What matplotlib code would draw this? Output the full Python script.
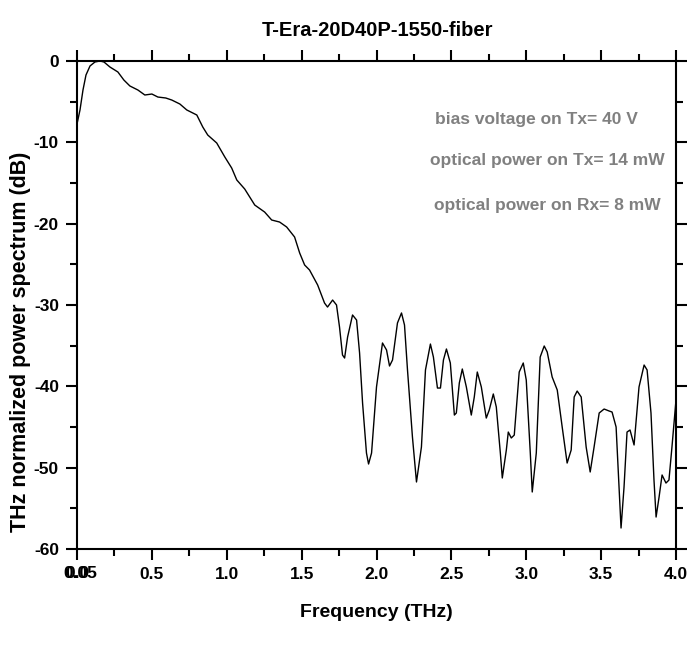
import matplotlib
matplotlib.use("Agg")
import matplotlib.pyplot as plt
from matplotlib.ticker import MultipleLocator
import matplotlib.transforms as mtransforms

plt.rcParams['font.family'] = ['Liberation Sans', 'DejaVu Sans']
plt.rcParams['font.weight'] = 'bold'
plt.rcParams['axes.unicode_minus'] = False

TITLE = "T-Era-20D40P-1550-fiber"
NOTES = ["bias voltage on Tx= 40 V",
         "optical power on Tx= 14 mW",
         "optical power on Rx= 8 mW"]

# frequency (THz) and normalized power (dB)
freq = [0.000, 0.020, 0.040, 0.060, 0.087, 0.120, 0.153, 0.180, 0.220, 0.273,
        0.313, 0.353, 0.407, 0.453, 0.500, 0.540, 0.593, 0.633, 0.687, 0.733,
        0.800, 0.840, 0.873, 0.933, 0.987, 1.033, 1.067, 1.120, 1.187, 1.253,
        1.300, 1.353, 1.400, 1.453, 1.487, 1.520, 1.553, 1.607, 1.653, 1.673,
        1.707, 1.733, 1.753, 1.773, 1.787, 1.807, 1.840, 1.867, 1.887, 1.907,
        1.933, 1.947, 1.967, 2.000, 2.040, 2.067, 2.087, 2.107, 2.140, 2.167,
        2.187, 2.207, 2.240, 2.267, 2.300, 2.327, 2.360, 2.380, 2.407, 2.427,
        2.447, 2.467, 2.493, 2.520, 2.533, 2.553, 2.573, 2.600, 2.633, 2.653,
        2.673, 2.700, 2.733, 2.753, 2.780, 2.800, 2.827, 2.840, 2.867, 2.880,
        2.900, 2.920, 2.953, 2.980, 3.000, 3.027, 3.040, 3.067, 3.093, 3.120,
        3.140, 3.173, 3.207, 3.240, 3.273, 3.300, 3.320, 3.340, 3.367, 3.400,
        3.427, 3.453, 3.487, 3.520, 3.553, 3.573, 3.600, 3.620, 3.633, 3.653,
        3.673, 3.693, 3.720, 3.753, 3.787, 3.807, 3.833, 3.853, 3.867, 3.887,
        3.907, 3.933, 3.953, 3.973, 4.000]
power = [-7.75, -6.02, -3.56, -1.72, -0.61, -0.12, 0.00, -0.12, -0.74, -1.35,
         -2.34, -3.07, -3.57, -4.18, -4.06, -4.43, -4.55, -4.80, -5.29, -6.02,
         -6.64, -8.12, -9.10, -10.08, -11.80, -13.16, -14.63, -15.74, -17.71, -18.57,
         -19.55, -19.80, -20.41, -21.64, -23.61, -25.08, -25.70, -27.54, -29.76, -30.25,
         -29.39, -30.00, -32.71, -36.15, -36.52, -33.94, -31.23, -31.85, -35.90, -42.05,
         -48.20, -49.55, -48.20, -40.08, -34.67, -35.53, -37.50, -36.76, -32.21, -30.98,
         -32.46, -37.99, -46.23, -51.76, -47.46, -37.99, -34.80, -36.40, -40.21, -40.21,
         -36.76, -35.41, -37.13, -43.53, -43.28, -39.59, -37.87, -40.08, -43.53, -41.31,
         -38.24, -40.08, -43.90, -42.91, -40.94, -42.54, -48.20, -51.27, -47.83, -45.62,
         -46.35, -45.99, -38.24, -37.13, -39.22, -48.20, -52.99, -48.20, -36.40, -35.04,
         -35.78, -38.85, -40.45, -45.00, -49.43, -47.83, -41.31, -40.58, -41.31, -47.46,
         -50.53, -47.46, -43.28, -42.79, -43.03, -43.16, -45.00, -52.38, -57.42, -52.38,
         -45.62, -45.37, -47.21, -40.08, -37.38, -37.99, -43.28, -51.52, -56.07, -53.61,
         -50.90, -51.89, -51.52, -47.46, -41.68]

fig = plt.figure(figsize=(7, 6.45), dpi=100)
ax = fig.add_axes([77/700, 1-549/645, (676-77)/700, (549-61)/645])

ax.plot(freq, power, color='black', lw=1.0)

ax.set_xlim(0, 4.0)
ax.set_ylim(-60, 0)
ax.xaxis.set_minor_locator(MultipleLocator(0.25))
ax.yaxis.set_major_locator(MultipleLocator(10))
ax.yaxis.set_minor_locator(MultipleLocator(5))
ax.set_xticks([0.0, 0.5, 1.0, 1.5, 2.0, 2.5, 3.0, 3.5, 4.0])
ax.set_xticklabels(["", "0.5", "1.0", "1.5", "2.0", "2.5", "3.0", "3.5", "4.0"])
ax.tick_params(which='both', direction='out', width=1.5, labelsize=12.5,
               top=True, right=True, pad=5)
ax.tick_params(which='major', length=8)
ax.tick_params(which='minor', length=5)
for s in ax.spines.values():
    s.set_linewidth(1.5)

# overlapping labels at the origin, as in the original
tr = mtransforms.blended_transform_factory(ax.transData, ax.transAxes)
ax.text(0.0, -0.05, "0.0", transform=tr, ha='center', va='center',
        fontsize=12.5, fontweight='bold')
ax.text(0.02, -0.05, "0.05", transform=tr, ha='center', va='center',
        fontsize=12.5, fontweight='bold')

fig.text(378/700, 1-30/645, TITLE, fontsize=14.5, fontweight='bold',
         ha='center', va='center')
ax.set_xlabel("Frequency (THz)", fontsize=14, fontweight='bold', labelpad=16)
ax.set_ylabel("THz normalized power spectrum (dB)", fontsize=15.5,
              fontweight='bold')
ax.yaxis.set_label_coords(-0.077, 0.424)

note_x = [3.07, 3.14, 3.14]
note_y = [-7.2, -12.2, -17.8]
for t, xx, yy in zip(NOTES, note_x, note_y):
    ax.text(xx, yy, t, color='#808080', fontsize=12.5, fontweight='bold',
            ha='center', va='center')

fig.savefig("out.png", dpi=100)
